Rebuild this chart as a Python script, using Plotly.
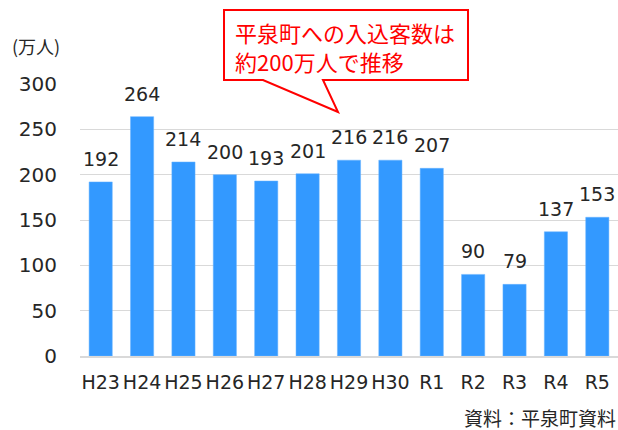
import plotly.graph_objects as go

categories = ["H23", "H24", "H25", "H26", "H27", "H28", "H29", "H30", "R1", "R2", "R3", "R4", "R5"]
visitors = [192, 264, 214, 200, 193, 201, 216, 216, 207, 90, 79, 137, 153]
y_ticks = [0, 50, 100, 150, 200, 250, 300]

W, H = 618, 430
L, R, T, B = 80, 0, 84, 74
pw, ph = W - L - R, H - T - B

def px(x):
    return (x - L) / pw

def py(y):
    return (H - B - y) / ph

fig = go.Figure(go.Bar(
    x=categories, y=visitors,
    marker=dict(color="#3399FF", line=dict(color="#66B2FF", width=0.5)),
    width=0.56, cliponaxis=False,
))

label_annotations = [
    dict(x=c, y=v, xref="x", yref="y", text=str(v), showarrow=False,
         yanchor="middle", yshift=23,
         font=dict(size=19, color="#262626", family="DejaVu Sans"))
    for c, v in zip(categories, visitors)
]

pts = [(224, 10), (468, 10), (468, 80), (323, 80), (338, 112), (263, 80), (224, 80)]
path = "M " + " L ".join(f"{px(a):.5f},{py(b):.5f}" for a, b in pts) + " Z"

fig.update_layout(
    width=W, height=H,
    margin=dict(l=L, r=R, t=T, b=B),
    plot_bgcolor="white", paper_bgcolor="white",
    font=dict(family="DejaVu Sans", size=19, color="#262626"),
    showlegend=False,
    xaxis=dict(showgrid=False, showline=True, linecolor="#D9D9D9", linewidth=1.5,
               ticks="", tickfont=dict(size=19, color="#262626"), ticklabelstandoff=8),
    yaxis=dict(range=[0, 300], tickvals=y_ticks, showgrid=True, gridcolor="#D9D9D9",
               gridwidth=1, zeroline=False, showline=False, ticks="",
               tickfont=dict(size=20, color="#262626"), ticklabelstandoff=22),
    shapes=[dict(type="path", xref="paper", yref="paper", path=path,
                 fillcolor="white", line=dict(color="#FF0000", width=2), layer="above")],
    annotations=label_annotations + [
        dict(text="平泉町への入込客数は<br>約200万人で推移", xref="paper", yref="paper",
             x=px(233), y=py(46), xanchor="left", yanchor="middle", align="left",
             showarrow=False,
             font=dict(size=22, color="#FF0000", family="Noto Sans CJK JP")),
        dict(text="(万人)", xref="paper", yref="paper", x=px(10), y=py(46),
             xanchor="left", yanchor="middle", showarrow=False,
             font=dict(size=18, color="#262626", family="Noto Sans CJK JP")),
        dict(text="資料：平泉町資料", xref="paper", yref="paper", x=px(618), y=py(417),
             xanchor="right", yanchor="middle", showarrow=False,
             font=dict(size=19, color="#262626", family="Noto Sans CJK JP")),
    ],
)

fig.write_html("out.html", config={"displayModeBar": False},
               post_script="document.body.style.margin='0';document.body.style.padding='0';")
